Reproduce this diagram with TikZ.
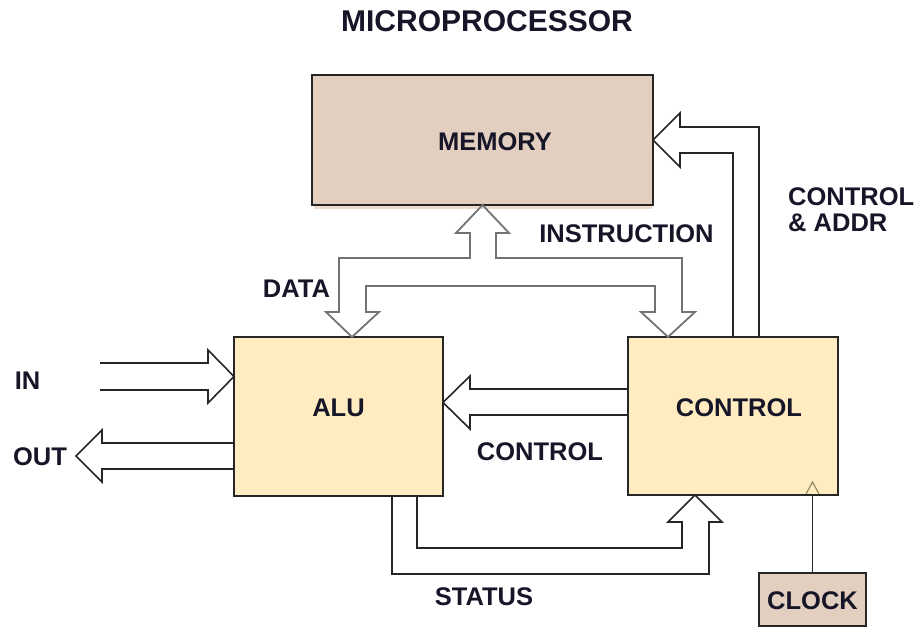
\documentclass[tikz,border=0pt]{standalone}
\usepackage{fontspec}
\setmainfont{Liberation Sans}
\usepackage{tikz}

\definecolor{membrown}{RGB}{226,207,192}
\definecolor{memshade}{RGB}{236,220,206}
\definecolor{unityellow}{RGB}{255,237,193}
\definecolor{inknavy}{RGB}{22,22,40}
\definecolor{clkolive}{RGB}{140,130,90}

\tikzset{
  unitbox/.style={draw=black!85, line width=1.8pt, inner sep=0pt, outer sep=0pt},
  bus/.style={draw=black!85, line width=1.6pt, line join=miter},
  membus/.style={draw=black!55, line width=1.8pt, line join=miter},
  lbl/.style={inner sep=0pt, text=inknavy, font=\fontsize{25.5}{27}\selectfont\bfseries},
}

\begin{document}
\begin{tikzpicture}[x=1pt,y=1pt,yscale=-1,xscale=1]
    \useasboundingbox (0,0) rectangle (920,628);

    %Shape: Rectangle [MEMORY]
    \fill[memshade] (314,205) rectangle (652,209);
    \node[unitbox, fill=membrown, minimum width=341pt, minimum height=130pt] (mem) at (482.5,140) {};
    %Shape: Rectangle [ALU]
    \node[unitbox, fill=unityellow, minimum width=209pt, minimum height=159pt] (alu) at (338.5,416.5) {};
    %Shape: Rectangle [CONTROL]
    \node[unitbox, fill=unityellow, minimum width=210pt, minimum height=158pt] (ctrl) at (733,416) {};
    %Shape: Rectangle [CLOCK]
    \node[unitbox, fill=membrown, minimum width=107pt, minimum height=53pt] (clk) at (812.5,599.5) {};

    %Fat Arrow: data / instruction bus
    \draw[membus] (352,0 |- alu.north) -- (326,312) -- (339,312) -- (339,258) -- (470,258) -- (470,233) -- (456,233)
        -- (mem.south) -- (509,233) -- (496,233) -- (496,258) -- (682,258) -- (682,312) -- (695,312)
        -- (668,0 |- ctrl.north) -- (641,312) -- (655,312) -- (655,286) -- (366,286) -- (366,312) -- (379,312) -- cycle;
    %Fat Arrow: in
    \coordinate (intail) at (100,376.5);
    \draw[bus] (intail |- 0,363) -- (208,363) -- (208,350) -- (alu.west |- 0,376.5) -- (208,403) -- (208,390) -- (intail |- 0,390);
    %Fat Arrow: out
    \coordinate (outtip) at (76,456);
    \draw[bus] (alu.west |- 0,443) -- (102,443) -- (102,430) -- (outtip) -- (102,482) -- (102,469) -- (alu.west |- 0,469);
    %Fat Arrow: control -> alu
    \draw[bus] (ctrl.west |- 0,389) -- (470,389) -- (470,376) -- (alu.east |- 0,402.5) -- (470,429) -- (470,415) -- (ctrl.west |- 0,415);
    %Fat Arrow: status
    \draw[bus] (392,0 |- alu.south) -- (392,574) -- (709,574) -- (709,522) -- (722,522) -- (695,0 |- ctrl.south)
        -- (668,522) -- (682,522) -- (682,548) -- (417,548) -- (417,0 |- alu.south);
    %Fat Arrow: control & addr
    \draw[bus] (759,0 |- ctrl.north) -- (759,127) -- (680,127) -- (680,113) -- (mem.east |- 0,140)
        -- (680,167) -- (680,153) -- (733,153) -- (733,0 |- ctrl.north);
    %Straight Lines: clock
    \draw[line width=1.6pt, draw=black!85] (clk.north) -- (clk.north |- ctrl.south);
    \draw[clkolive, line width=1.1pt] (806,494) -- (812.5,482) -- (819,494);

    % Text Node
    \node[lbl, font=\fontsize{30}{32}\selectfont\bfseries] (titletxt) at (487,21.5) {MICROPROCESSOR};
    % Text Node
    \node[lbl] (memtxt) at (495,142) {MEMORY};
    % Text Node
    \node[lbl] (alutxt) at (338.5,408) {ALU};
    % Text Node
    \node[lbl] (ctrltxt) at (739,408) {CONTROL};
    % Text Node
    \node[lbl] (clktxt) at (812.5,601) {CLOCK};
    % Text Node
    \node[lbl] (instrtxt) at (626.5,234) {INSTRUCTION};
    % Text Node
    \node[lbl] (datatxt) at (296.5,289) {DATA};
    % Text Node
    \node[lbl, align=left, anchor=west, font=\fontsize{25.5}{26}\selectfont\bfseries] (addrtxt) at (788,210) {CONTROL\\\& ADDR};
    % Text Node
    \node[lbl] (intxt) at (27.5,381) {IN};
    % Text Node
    \node[lbl] (outtxt) at (40,457) {OUT};
    % Text Node
    \node[lbl] (ctltxt) at (540,452) {CONTROL};
    % Text Node
    \node[lbl] (statustxt) at (484,597) {STATUS};

\end{tikzpicture}
\end{document}
